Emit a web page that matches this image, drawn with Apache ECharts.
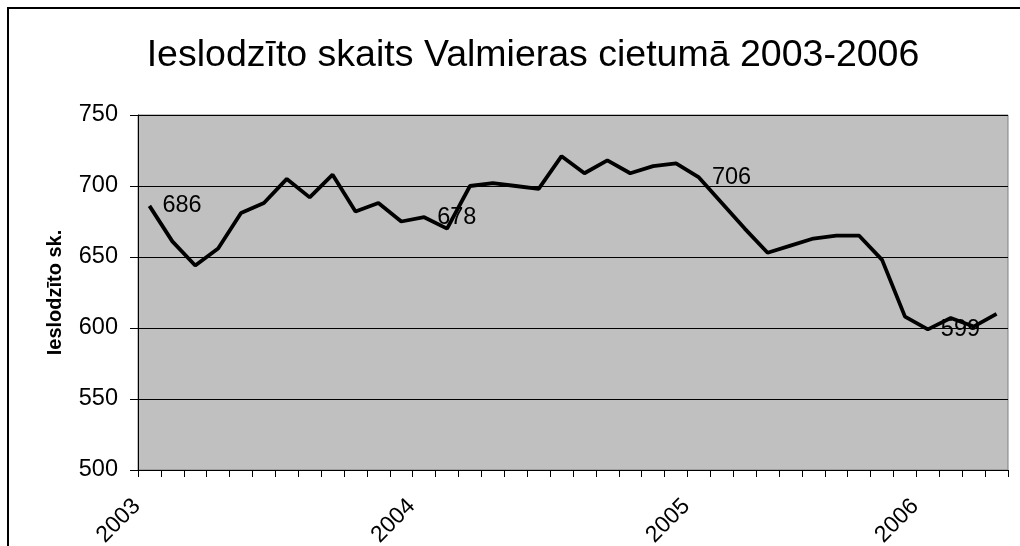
<!DOCTYPE html>
<html>
<head>
<meta charset="utf-8">
<title>Ieslodzīto skaits Valmieras cietumā 2003-2006</title>
<script src="https://cdn.jsdelivr.net/npm/echarts@6/dist/echarts.min.js"></script>
<style>
  html, body { margin: 0; padding: 0; background: #fff; }
  #main { width: 1020px; height: 546px; }
</style>
</head>
<body>
<div id="main"></div>
<script>
  // kategorijas (mēneši), gads rakstīts tikai pie gada sākuma
  var categories = [
    '2003', '', '', '', '', '', '', '', '', '', '', '',
    '2004', '', '', '', '', '', '', '', '', '', '', '',
    '2005', '', '', '', '', '', '', '', '', '',
    '2006', '', '', ''
  ];
  // ieslodzīto skaits
  var values = [
    686, 661, 644, 656, 681, 688, 705, 692, 708, 682, 688, 675,
    678, 670, 700, 702, 700, 698, 721, 709, 718, 709, 714, 716,
    706, 688, 670, 653, 658, 663, 665, 665, 648, 608,
    599, 607, 601, 610
  ];
  // punkti ar vērtības uzrakstu
  var labelled = [0, 12, 24, 34];

  var font = "'Liberation Sans', Arial, sans-serif";

  var seriesData = values.map(function (v, i) {
    if (labelled.indexOf(i) >= 0) {
      return { value: v, label: { show: true } };
    }
    return v;
  });

  var chart = echarts.init(document.getElementById('main'), null, { renderer: 'canvas' });

  var option = {
    animation: false,
    backgroundColor: '#fff',
    textStyle: { fontFamily: font },
    title: {
      text: 'Ieslodzīto skaits Valmieras cietumā 2003-2006',
      left: 528,
      top: 32,
      textAlign: 'center',
      textStyle: { fontFamily: font, fontSize: 37.5, fontWeight: 'normal', color: '#000' }
    },
    graphic: [{
      type: 'rect',
      shape: { x: 8, y: 8, width: 1100, height: 600 },
      style: { fill: 'none', stroke: '#000', lineWidth: 2 },
      silent: true,
      z: -1
    }],
    grid: {
      left: 138,
      top: 115,
      width: 870,
      height: 355,
      show: true,
      backgroundColor: '#c0c0c0',
      borderColor: '#808080',
      borderWidth: 1,
      outerBoundsMode: 'none',
      containLabel: false
    },
    xAxis: {
      type: 'category',
      data: categories,
      boundaryGap: true,
      axisLine: { lineStyle: { color: '#000', width: 1 } },
      axisTick: { show: true, interval: 0, length: 7, lineStyle: { color: '#000' } },
      axisLabel: {
        interval: 0,
        rotate: 45,
        margin: 20,
        padding: [0, 18, 0, 0],
        fontFamily: font,
        fontSize: 23,
        color: '#000',
        hideOverlap: false
      },
      splitLine: { show: false }
    },
    yAxis: {
      type: 'value',
      min: 500,
      max: 750,
      interval: 50,
      name: 'Ieslodzīto sk.',
      nameLocation: 'middle',
      nameGap: 73,
      nameTextStyle: { fontFamily: font, fontSize: 20, fontWeight: 'bold', color: '#000' },
      axisLine: { show: true, lineStyle: { color: '#000', width: 1 } },
      axisTick: { show: true, length: 8, lineStyle: { color: '#000' } },
      axisLabel: { margin: 20, fontFamily: font, fontSize: 23.5, color: '#000' },
      splitLine: { show: true, lineStyle: { color: '#000', width: 1 } }
    },
    series: [{
      type: 'line',
      data: seriesData,
      symbol: 'circle',
      symbolSize: 0,
      showSymbol: true,
      lineStyle: { color: '#000', width: 3.8 },
      itemStyle: { color: '#000' },
      label: {
        show: false,
        position: 'right',
        distance: 13,
        formatter: '{c}',
        fontFamily: font,
        fontSize: 23.5,
        color: '#000'
      }
    }]
  };

  chart.setOption(option);
</script>
</body>
</html>
